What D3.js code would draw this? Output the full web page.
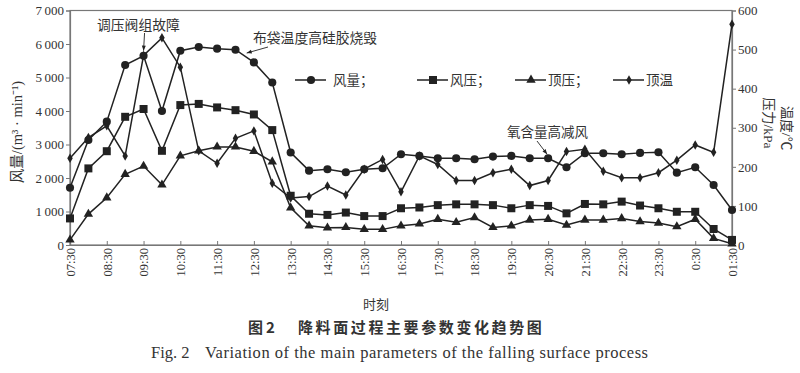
<!DOCTYPE html>
<html><head><meta charset="utf-8">
<script src="https://cdn.jsdelivr.net/npm/d3@7"></script>
<style>
body{margin:0;background:#fff}
svg{display:block}
text{font-family:"Liberation Serif","Noto Sans CJK SC",serif;fill:#333}
</style>
</head><body>
<svg id="c" width="800" height="373"></svg>
<script>
const times = ["07:30","08:00","08:30","09:00","09:30","10:00","10:30","11:00","11:30","12:00","12:30","13:00","13:30","14:00","14:30","15:00","15:30","16:00","16:30","17:00","17:30","18:00","18:30","19:00","19:30","20:00","20:30","21:00","21:30","22:00","22:30","23:00","23:30","0:00","0:30","01:00","01:30"];
const tickLabels = ["07:30","08:30","09:30","10:30","11:30","12:30","13:30","14:30","15:30","16:30","17:30","18:30","19:30","20:30","21:30","22:30","23:30","0:30","01:30"];
const leftTicks = [0,1000,2000,3000,4000,5000,6000,7000];
const rightTicks = [0,100,200,300,400,500,600];
// 风量 (m3/min), left axis
const airFlow = [1710,3134,3681,5373,5650,4000,5800,5910,5860,5830,5450,4850,2760,2220,2260,2170,2260,2290,2710,2660,2590,2590,2560,2640,2660,2590,2590,2320,2740,2740,2710,2750,2770,2160,2320,1790,1045];
// 风压 (kPa), right axis
const blastPressure = [68,196,240,328,348,241,358,361,352,345,334,294,126,80,77,83,74,74,94,96,102,104,104,102,94,102,100,81,105,104,111,101,94,85,85,41,13];
// 顶压 (kPa), right axis
const topPressure = [13,79,121,181,202,154,228,241,251,251,240,213,95,49,44,45,40,40,49,54,66,58,70,45,49,64,66,51,64,64,68,60,56,47,66,17,3];
// 顶温 (°C), right axis
const topTemp = [222,275,305,228,485,530,455,241,209,273,292,158,120,124,151,128,194,219,136,228,206,165,165,185,194,152,165,239,245,189,172,172,185,217,256,237,565];
const seriesNames = ["风量；","风压；","顶压；","顶温"];
const annotations = [
  {text:"调压阀组故障", at:"09:30", series:"airFlow"},
  {text:"布袋温度高硅胶烧毁", at:"12:00", series:"airFlow"},
  {text:"氧含量高减风", at:"20:30", series:"airFlow"}
];

const svg = d3.select("#c");
const L = 70, R = 732, T = 10.5, B = 245;
const x = d3.scalePoint().domain(times).range([L, R]);
const yL = d3.scaleLinear().domain([0,7000]).range([B, T]);
const yR = d3.scaleLinear().domain([0,600]).range([B, T]);
const ink = "#222";

// frame
svg.append("rect").attr("x",L).attr("y",T).attr("width",R-L).attr("height",B-T)
  .attr("fill","none").attr("stroke","#777").attr("stroke-width",1.2);

// left axis
const gl = svg.append("g").attr("transform",`translate(${L},0)`)
  .call(d3.axisLeft(yL).tickValues(leftTicks).tickSize(4).tickPadding(2)
    .tickFormat(d => d3.format(",")(d).replace(",", "\u2009")));
// right axis
const gr = svg.append("g").attr("transform",`translate(${R},0)`)
  .call(d3.axisRight(yR).tickValues(rightTicks).tickSize(4).tickPadding(2));
// bottom axis
const gb = svg.append("g").attr("transform",`translate(0,${B})`)
  .call(d3.axisBottom(x).tickValues(tickLabels).tickSize(-4));
[gl,gr,gb].forEach(g=>{
  g.select(".domain").attr("stroke","#777").attr("stroke-width",1.2);
  g.selectAll(".tick line").attr("stroke","#777");
  g.selectAll("text").attr("font-size",13).attr("fill","#333")
    .style("font-family",'"Liberation Serif",serif');
});
gb.selectAll("text").attr("transform","rotate(-90)").attr("text-anchor","end")
  .attr("x",-3).attr("y",0).attr("dy","0.35em").attr("font-size",12.5);

// axis titles
svg.append("text").attr("transform","translate(22,132) rotate(-90)").attr("text-anchor","middle")
  .attr("font-size",14.5).text("风量/(m³ · min⁻¹)");
svg.append("text").attr("transform","translate(764,123) rotate(90)").attr("text-anchor","middle")
  .attr("font-size",13.5).text("压力/kPa");
svg.append("text").attr("transform","translate(782,128) rotate(90)").attr("text-anchor","middle")
  .attr("font-size",13.5).text("温度/℃");
svg.append("text").attr("x",376).attr("y",309).attr("text-anchor","middle")
  .attr("font-size",13).text("时刻");

// series
const series = [
  {vals:airFlow, y:yL, sym:d3.symbolCircle, size:52},
  {vals:blastPressure, y:yR, sym:d3.symbolSquare, size:64},
  {vals:topPressure, y:yR, sym:d3.symbolTriangle, size:38},
  {vals:topTemp, y:yR, sym:d3.symbolDiamond, size:26}
];
series.forEach(s=>{
  const line = d3.line().x((d,i)=>x(times[i])).y(d=>s.y(d));
  svg.append("path").datum(s.vals).attr("d",line).attr("fill","none")
    .attr("stroke",ink).attr("stroke-width",1.5);
  svg.append("g").selectAll("path").data(s.vals).join("path")
    .attr("transform",(d,i)=>`translate(${x(times[i])},${s.y(d)})`)
    .attr("d",d3.symbol().type(s.sym).size(s.size)).attr("fill",ink);
});

// legend
const legX = [295, 417, 515, 613];
const legY = 80;
series.forEach((s,k)=>{
  const g = svg.append("g").attr("transform",`translate(${legX[k]},${legY})`);
  g.append("line").attr("x1",0).attr("x2",31).attr("stroke",ink).attr("stroke-width",1.5);
  g.append("path").attr("transform","translate(16,0)")
    .attr("d",d3.symbol().type(s.sym).size(s.size)).attr("fill",ink);
  g.append("text").attr("x", k===0 ? 38 : 33).attr("y",0).attr("dy","0.35em")
    .attr("font-size",13.5).text(seriesNames[k]);
});

// annotations
const idx = t => times.indexOf(t);
function arrow(x1,y1,x2,y2){
  svg.append("line").attr("x1",x1).attr("y1",y1).attr("x2",x2).attr("y2",y2)
    .attr("stroke",ink).attr("stroke-width",0.9);
  const a = Math.atan2(y2-y1,x2-x1), h=5, w=2;
  const p = [[x2,y2],[x2-h*Math.cos(a)+w*Math.sin(a), y2-h*Math.sin(a)-w*Math.cos(a)],
             [x2-h*Math.cos(a)-w*Math.sin(a), y2-h*Math.sin(a)+w*Math.cos(a)]];
  svg.append("path").attr("d","M"+p.join("L")+"Z").attr("fill",ink);
}
{
  const px = x("09:30"), py = yL(airFlow[idx("09:30")]);
  svg.append("text").attr("x",97).attr("y",30).attr("font-size",13.8).text(annotations[0].text);
  arrow(px+1, 33, px, py-5);
}
{
  svg.append("text").attr("x",253).attr("y",43).attr("font-size",13.8).text(annotations[1].text);
  const px = (x("12:00")+x("12:30"))/2, py = (yL(airFlow[idx("12:00")])+yL(airFlow[idx("12:30")]))/2;
  arrow(268, 47, px+2, py-3);
}
{
  svg.append("text").attr("x",507).attr("y",137).attr("font-size",13.5).text(annotations[2].text);
  const px = x("20:30"), py = yL(airFlow[idx("20:30")]);
  arrow(537, 141, px-1, py-4);
}

// captions
const cjk = '"Noto Sans CJK SC",sans-serif';
svg.append("text").attr("x",248).attr("y",333).attr("font-size",15).attr("font-weight","bold")
  .style("font-family",cjk).text("图");
svg.append("text").attr("x",266).attr("y",333).attr("font-size",15).attr("font-weight","bold")
  .style("font-family",cjk).text("2");
svg.append("text").attr("x",298).attr("y",333).attr("font-size",15).attr("font-weight","bold")
  .attr("letter-spacing",2.6).style("font-family",cjk)
  .text("降料面过程主要参数变化趋势图");
svg.append("text").attr("x",151).attr("y",358).attr("font-size",16.5).text("Fig. 2");
svg.append("text").attr("x",205).attr("y",358).attr("font-size",16.5)
  .attr("textLength",443).attr("lengthAdjust","spacing")
  .text("Variation of the main parameters of the falling surface process");
</script>
</body></html>
